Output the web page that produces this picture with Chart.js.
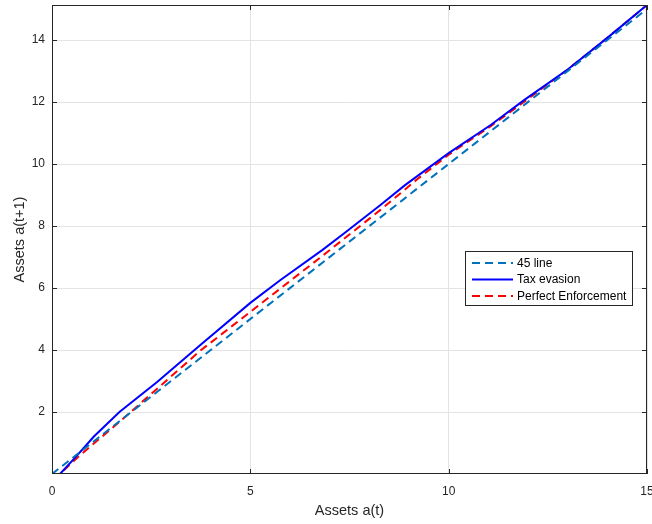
<!DOCTYPE html>
<html>
<head>
<meta charset="utf-8">
<script src="https://cdn.jsdelivr.net/npm/chart.js@4"></script>
<style>
  html, body { margin: 0; padding: 0; background: #fff; }
  #wrap { width: 652px; height: 524px; }
</style>
</head>
<body>
<div id="wrap"><canvas id="assetChart" width="652" height="524"></canvas></div>
<script>
// series values
const line45X = [0, 15];
const line45Y = [0, 15];

const evasionX = [0, 0.2, 0.6, 1.05, 1.7, 2.65, 3.74, 5.0, 5.76, 6.82, 7.4, 8.28, 8.9, 10.0, 11.06, 11.9, 13, 14, 15];
const evasionY = [0, 0, 0.55, 1.2, 2.0, 2.97, 4.16, 5.52, 6.26, 7.23, 7.8, 8.68, 9.32, 10.35, 11.26, 12.06, 13.05, 14.07, 15.13];

const enforceX = [0, 0.2, 0.7, 1.7, 3.74, 5.0, 6.94, 8.28, 9.2, 10.0, 11.06, 12, 13, 14, 15];
const enforceY = [0, 0, 0.6, 1.68, 3.98, 5.23, 7.16, 8.52, 9.5, 10.3, 11.22, 12.1, 13.05, 14.07, 15.13];

const seriesLabels = ['45 line', 'Tax evasion', 'Perfect Enforcement'];
const xTicks = [0, 5, 10, 15];
const yTicks = [2, 4, 6, 8, 10, 12, 14];

const toPoints = (xs, ys) => xs.map((x, i) => ({ x: x, y: ys[i] }));

const axisColor = '#262626';
const fontFamily = '"Liberation Sans", Arial, Helvetica, sans-serif';

// box round the plot plus inward tick marks on all four sides
const boxPlugin = {
  id: 'matlabBox',
  afterDatasetsDraw(chart) {
    const { ctx, chartArea: a, scales } = chart;
    ctx.save();
    ctx.strokeStyle = axisColor;
    ctx.lineWidth = 1;
    ctx.strokeRect(a.left + 0.5, a.top + 0.5, a.right - a.left - 1, a.bottom - a.top - 1);
    ctx.beginPath();
    const len = 5;
    xTicks.forEach(t => {
      const px = Math.round(scales.x.getPixelForValue(t)) + 0.5;
      ctx.moveTo(px, a.bottom); ctx.lineTo(px, a.bottom - len);
      ctx.moveTo(px, a.top); ctx.lineTo(px, a.top + len);
    });
    yTicks.forEach(t => {
      const py = Math.round(scales.y.getPixelForValue(t)) + 0.5;
      ctx.moveTo(a.left, py); ctx.lineTo(a.left + len, py);
      ctx.moveTo(a.right, py); ctx.lineTo(a.right - len, py);
    });
    ctx.stroke();
    ctx.restore();
  }
};

// legend box inside the plot, like the MATLAB one
const legendPlugin = {
  id: 'insideLegend',
  afterDraw(chart) {
    const { ctx } = chart;
    const left = 465, top = 251, w = 167, h = 54;
    ctx.save();
    ctx.fillStyle = '#fff';
    ctx.fillRect(left, top, w, h);
    ctx.strokeStyle = axisColor;
    ctx.lineWidth = 1;
    ctx.strokeRect(left + 0.5, top + 0.5, w, h);
    ctx.font = '12px ' + fontFamily;
    ctx.textBaseline = 'middle';
    chart.data.datasets.forEach((ds, i) => {
      const y = top + 12 + i * 16.5;
      ctx.beginPath();
      ctx.strokeStyle = ds.borderColor;
      ctx.lineWidth = 2;
      ctx.setLineDash(ds.borderDash || []);
      ctx.moveTo(left + 7, y);
      ctx.lineTo(left + 48, y);
      ctx.stroke();
      ctx.setLineDash([]);
      ctx.fillStyle = '#000';
      ctx.fillText(ds.label, left + 52, y + 0.5);
    });
    ctx.restore();
  }
};

new Chart(document.getElementById('assetChart'), {
  type: 'scatter',
  data: {
    datasets: [
      {
        label: seriesLabels[0],
        data: toPoints(line45X, line45Y),
        borderColor: '#0072BD',
        borderDash: [8, 5],
        borderWidth: 2,
        showLine: true,
        pointRadius: 0,
        fill: false
      },
      {
        label: seriesLabels[1],
        data: toPoints(evasionX, evasionY),
        borderColor: '#0000FF',
        borderWidth: 2,
        showLine: true,
        pointRadius: 0,
        fill: false
      },
      {
        label: seriesLabels[2],
        data: toPoints(enforceX, enforceY),
        borderColor: '#FF0000',
        borderDash: [8, 5],
        borderWidth: 2,
        showLine: true,
        pointRadius: 0,
        fill: false
      }
    ]
  },
  options: {
    responsive: false,
    animation: false,
    layout: { padding: { left: 0, top: 5, right: 5, bottom: 0 } },
    plugins: {
      legend: { display: false },
      tooltip: { enabled: false }
    },
    scales: {
      x: {
        type: 'linear',
        min: 0,
        max: 15,
        afterBuildTicks: s => { s.ticks = xTicks.map(v => ({ value: v })); },
        afterFit: s => { s.height = 50; s.paddingLeft = 0; s.paddingRight = 0; },
        grid: { color: '#e3e3e3', drawTicks: false },
        border: { display: false },
        ticks: {
          color: axisColor,
          padding: 10,
          maxRotation: 0,
          font: { family: fontFamily, size: 12 }
        },
        title: {
          display: true,
          text: 'Assets a(t)',
          color: axisColor,
          padding: { top: 0, bottom: 4 },
          font: { family: fontFamily, size: 14.5 }
        }
      },
      y: {
        type: 'linear',
        min: 0,
        max: 15.13,
        afterBuildTicks: s => { s.ticks = yTicks.map(v => ({ value: v })); },
        afterFit: s => { s.width = 52; s.paddingTop = 0; s.paddingBottom = 0; },
        grid: { color: '#e3e3e3', drawTicks: false },
        border: { display: false },
        ticks: {
          color: axisColor,
          padding: 7,
          font: { family: fontFamily, size: 12 }
        },
        title: {
          display: true,
          text: 'Assets a(t+1)',
          color: axisColor,
          padding: { top: 11, bottom: 0 },
          font: { family: fontFamily, size: 14.5 }
        }
      }
    }
  },
  plugins: [boxPlugin, legendPlugin]
});
</script>
</body>
</html>
